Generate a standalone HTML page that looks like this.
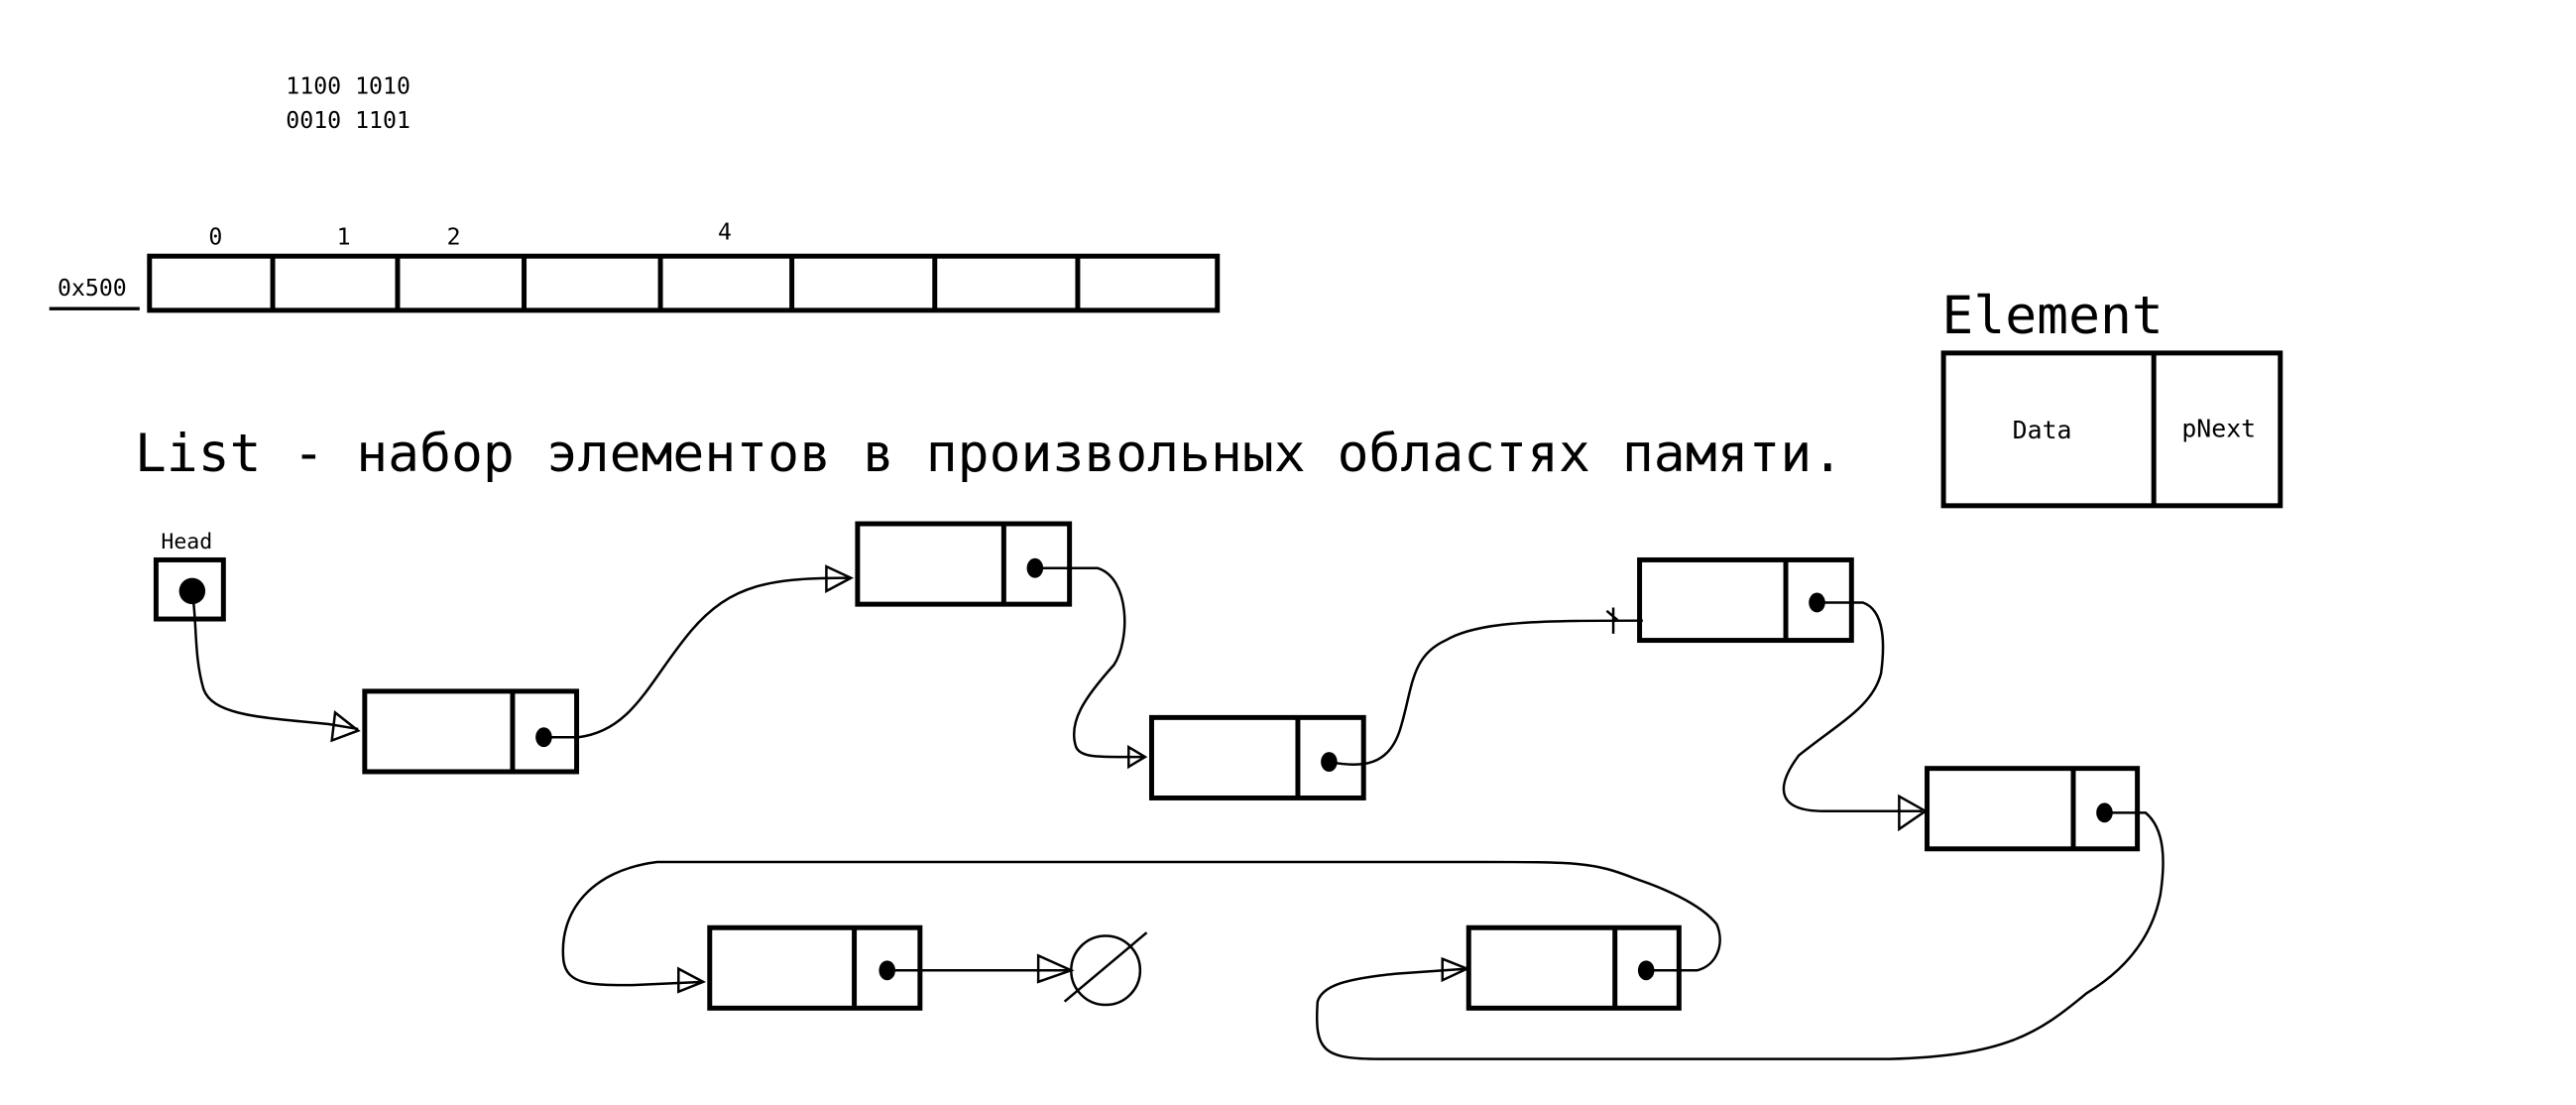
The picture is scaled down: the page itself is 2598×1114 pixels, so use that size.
<!DOCTYPE html>
<html><head><meta charset="utf-8"><style>html,body{margin:0;padding:0;background:#fff;width:2598px;height:1114px;overflow:hidden}</style></head>
<body>
<svg width="2598" height="1114" viewBox="0 0 1568 673" preserveAspectRatio="none" xmlns="http://www.w3.org/2000/svg" font-family="'DejaVu Sans Mono','Liberation Mono',monospace">
<g fill="#000">
<text x="174" y="57" font-size="14">1100 1010</text>
<text x="174" y="78" font-size="14">0010 1101</text>
<text x="127" y="149" font-size="14">0</text>
<text x="205" y="149" font-size="14">1</text>
<text x="272" y="149" font-size="14">2</text>
<text x="437" y="146" font-size="14">4</text>
<text x="35" y="180" font-size="14">0x500</text>
<text x="82" y="287" font-size="32">List - набор элементов в произвольных областях памяти.</text>
<text x="1182" y="203" font-size="32">Element</text>
<text x="1225" y="267" font-size="15">Data</text>
<text x="1328" y="266" font-size="15">pNext</text>
<text x="98" y="334" font-size="13">Head</text>
</g>
<g fill="none" stroke="#000" stroke-width="3">
<rect x="91" y="156" width="650" height="33"/>
<path d="M166 156V189M242 156V189M319 156V189M402 156V189M482 156V189M569 156V189M656 156V189"/>
<rect x="1183" y="215" width="205" height="93"/>
<path d="M1311 215V308"/>
<rect x="95" y="341" width="41" height="36"/>
<rect x="222" y="421" width="129" height="49"/><path d="M312 421V470"/>
<rect x="522" y="319" width="129" height="49"/><path d="M611 319V368"/>
<rect x="701" y="437" width="129" height="49"/><path d="M790 437V486"/>
<rect x="998" y="341" width="129" height="49"/><path d="M1087 341V390"/>
<rect x="1173" y="468" width="128" height="49"/><path d="M1262 468V517"/>
<rect x="894" y="565" width="128" height="49"/><path d="M983 565V614"/>
<rect x="432" y="565" width="128" height="49"/><path d="M520 565V614"/>
</g>
<path d="M30 188H85" stroke="#000" stroke-width="2"/>
<g fill="#000">
<circle cx="117" cy="360" r="8"/>
<ellipse cx="331" cy="449" rx="5" ry="6"/>
<ellipse cx="630" cy="346" rx="5" ry="6"/>
<ellipse cx="809" cy="464" rx="5" ry="6"/>
<ellipse cx="1106" cy="367" rx="5" ry="6"/>
<ellipse cx="1281" cy="495" rx="5" ry="6"/>
<ellipse cx="1002" cy="591" rx="5" ry="6"/>
<ellipse cx="540" cy="591" rx="5" ry="6"/>
</g>
<g fill="none" stroke="#000" stroke-width="1.5">
<path d="M117 360C120 380 118 400 124 420C130 436 160 437 200 441L218 444"/>
<path d="M204 434L218 445L202 451Z"/>
<path d="M331 449H352C385 445 395 415 420 385C445 355 470 352 518 352"/>
<path d="M503 345L518 352L503 360Z"/>
<path d="M630 346H668C688 352 688 390 678 405C660 425 650 440 655 455C658 462 670 461 697 461"/>
<path d="M687 455L697 461L687 467Z"/>
<path d="M809 464C830 468 845 466 852 445C860 420 858 400 880 390C900 378 940 378 1000 378"/>
<path d="M982 370V386M978 372L985 378"/>
<path d="M1106 367H1134C1148 372 1147 395 1145 410C1140 430 1120 440 1095 460C1080 480 1082 494 1110 494H1170"/>
<path d="M1156 485L1172 494L1156 505Z"/>
<path d="M1281 495H1306C1318 505 1318 525 1315 545C1310 570 1295 590 1270 605C1240 630 1220 643 1150 645L840 645C805 645 800 640 802 610C805 600 820 596 850 593L893 590"/>
<path d="M878 584L893 590L878 597Z"/>
<path d="M1002 591H1033C1045 588 1050 575 1045 563C1035 550 1010 540 995 535C970 525 960 525 900 525L400 525C360 530 340 555 343 585C345 600 360 600 385 600L428 598"/>
<path d="M413 590L428 598L413 604Z"/>
<path d="M540 591H652"/>
<path d="M632 582L652 591L632 598Z"/>
<circle cx="673" cy="591" r="21"/>
<path d="M648 610L698 568"/>
</g>
</svg>
</body></html>
